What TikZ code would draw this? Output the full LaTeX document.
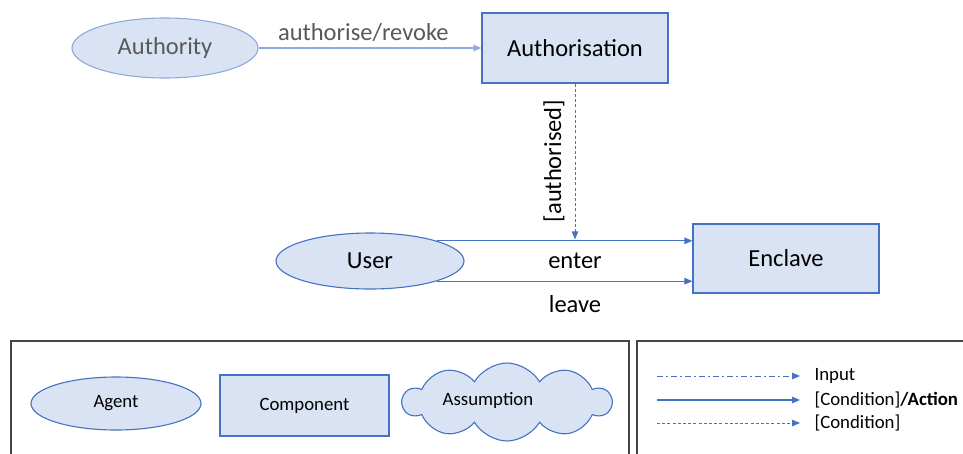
\documentclass[tikz,border=0pt]{standalone}
\usepackage{fontspec}
\setmainfont{Carlito}
\usetikzlibrary{shapes.geometric,shapes.symbols,arrows.meta,calc}

\definecolor{officeblue}{HTML}{4472C4}
\definecolor{paleblue}{HTML}{DAE3F3}
\definecolor{softblue}{HTML}{8FAADC}
\definecolor{greytext}{HTML}{595959}
\definecolor{framegrey}{HTML}{454545}

\tikzset{
  big/.style={font=\fontsize{24.5}{28}\selectfont},
  small/.style={font=\fontsize{18.8}{22}\selectfont},
  agentshape/.style={ellipse, draw=officeblue, fill=paleblue, line width=1.1pt, inner sep=0pt},
  compshape/.style={rectangle, draw=officeblue, fill=paleblue, line width=1.1pt, inner sep=0pt},
  faded/.style={draw=softblue, text=greytext},
  flow/.style={draw=officeblue, line width=1.1pt, -{Triangle[length=8pt,width=6.5pt]}},
  condflow/.style={flow, dash pattern=on 3pt off 2.2pt},
  inputflow/.style={flow, dash pattern=on 6pt off 3pt on 2pt off 3pt},
  legendframe/.style={draw=framegrey, line width=1.2pt},
}

\begin{document}
\begin{tikzpicture}[x=1pt, y=-1pt]
\useasboundingbox (0,0) rectangle (963,453);
\fill[white] (0,0) rectangle (963,453);
\clip (0,0) rectangle (963,453);

% main model
\node[agentshape, faded, big, minimum width=186pt, minimum height=60pt] (authority) at (165,48) {Authority};
\node[compshape, big, minimum width=186pt, minimum height=70pt] (authorisation) at (575,48) {Authorisation};
\node[agentshape, big, minimum width=188pt, minimum height=56pt] (user) at (370,261) {User};
\node[compshape, big, minimum width=186pt, minimum height=69pt] (enclave) at (786,258.5) {Enclave};

\draw[flow, draw=softblue, -{Triangle[length=8pt,width=6.5pt,fill=softblue]}] (authority.east) -- (authorisation.west)
  node[pos=0.47, above=3pt, big, text=greytext] (lblauth) {authorise/revoke};

\draw[flow] (user.north east) -- (enclave.west |- user.north east);
\draw[flow] (user.south east) -- (enclave.west |- user.south east);
\draw[condflow, line width=0.9pt, shorten >=1.5pt] (authorisation.south) -- (authorisation.south |- user.north east);

\node[big, rotate=90] (lblguard) at (554,161) {[authorised]};
\node[big] (lblenter) at (575,261) {enter};
\node[big] (lblleave) at (575,304) {leave};

% legend frames
\draw[legendframe] (11,470) -- (11,341) -- (629,341) -- (629,470);
\draw[legendframe] (637,470) -- (637,341) -- (990,341);

% legend shapes
\node[agentshape, small, minimum width=170pt, minimum height=53pt] (legagent) at (116,403.5) {Agent};
\node[compshape, small, minimum width=169pt, minimum height=61pt] (legcomp) at (304.5,405.5) {Component};
\node[cloud, cloud puffs=10, cloud puff arc=120, draw=officeblue, fill=paleblue, line width=1.1pt,
      minimum width=208pt, minimum height=78pt, inner sep=0pt] (legcloud) at (507,402) {};
\node[small] (legassume) at (488,401) {Assumption};

% legend connectors
\coordinate (inA) at (657,376);   \coordinate (inB) at (800,376);
\coordinate (actA) at (657,400);  \coordinate (actB) at (800,400);
\coordinate (cdA) at (657,423);   \coordinate (cdB) at (800,423);
\draw[inputflow, line width=0.9pt] (inA) -- (inB);
\draw[flow] (actA) -- (actB);
\draw[condflow, line width=0.9pt] (cdA) -- (cdB);
\node[small, anchor=west] (legin) at (811,376) {Input};
\node[small, anchor=west] (legact) at (811,400) {[Condition]\textbf{/Action}};
\node[small, anchor=west] (legcond) at (811,423) {[Condition]};
\end{tikzpicture}
\end{document}
